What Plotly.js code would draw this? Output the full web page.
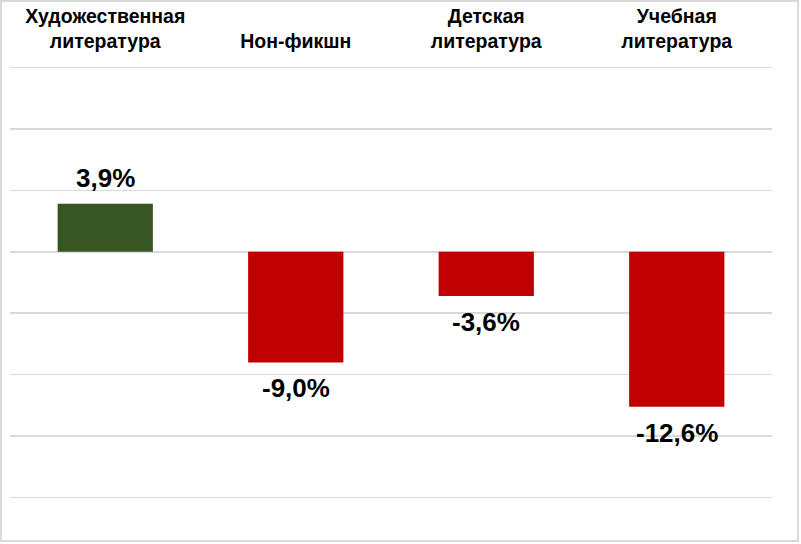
<!DOCTYPE html>
<html>
<head>
<meta charset="utf-8">
<script src="https://cdn.plot.ly/plotly-3.0.1.min.js"></script>
<style>
  html, body { margin: 0; padding: 0; background: #ffffff; }
  #wrap { position: relative; width: 801px; height: 544px; }
  #chart { width: 801px; height: 544px; }
  #frame {
    position: absolute; left: 0; top: 0; width: 799px; height: 542px;
    box-sizing: border-box; border: 2px solid #d9d9d9; pointer-events: none;
  }
</style>
</head>
<body>
<div id="wrap">
  <div id="chart"></div>
  <div id="frame"></div>
</div>
<script>
const categories = ['Художественная литература', 'Нон-фикшн', 'Детская литература', 'Учебная литература']
const tickLabels = ['Художественная<br>литература', 'Нон-фикшн', 'Детская<br>литература', 'Учебная<br>литература']
const changes = [3.9, -9.0, -3.6, -12.6]
const valueLabels = ['3,9%', '-9,0%', '-3,6%', '-12,6%']

const upColor = '#375623'
const downColor = '#c00000'
const gridColor = '#d9d9d9'
const fontFamily = 'Arial, "Liberation Sans", sans-serif'

const trace = {
  type: 'bar',
  x: categories,
  y: changes,
  marker: { color: changes.map(v => v >= 0 ? upColor : downColor) },
  hoverinfo: 'none',
}

// value labels sit a bit further from the bars than plotly's own outside text
const annotations = changes.map((v, i) => ({
  x: categories[i],
  y: v,
  xref: 'x',
  yref: 'y',
  text: valueLabels[i],
  showarrow: false,
  yanchor: v >= 0 ? 'bottom' : 'top',
  yshift: v >= 0 ? 9 : -9,
  font: { family: fontFamily, size: 26, color: '#000000', weight: 'bold' },
}))

const layout = {
  width: 801,
  height: 544,
  margin: { t: 55, r: 29, b: 34, l: 10 },
  paper_bgcolor: '#ffffff',
  plot_bgcolor: '#ffffff',
  showlegend: false,
  bargap: 0.5,
  xaxis: {
    side: 'top',
    tickvals: categories,
    ticktext: tickLabels,
    showgrid: false,
    showline: false,
    zeroline: false,
    ticks: '',
    ticklabelstandoff: 2,
    tickfont: { family: fontFamily, size: 19.5, color: '#000000', weight: 'bold' },
    fixedrange: true,
  },
  yaxis: {
    range: [-21, 16],
    dtick: 5,
    tick0: 0,
    showticklabels: false,
    ticks: '',
    showline: false,
    gridcolor: gridColor,
    gridwidth: 1.5,
    zeroline: true,
    zerolinecolor: gridColor,
    zerolinewidth: 1.5,
    fixedrange: true,
  },
  annotations: annotations,
}

Plotly.newPlot('chart', [trace], layout, { displayModeBar: false, staticPlot: true })
</script>
</body>
</html>
